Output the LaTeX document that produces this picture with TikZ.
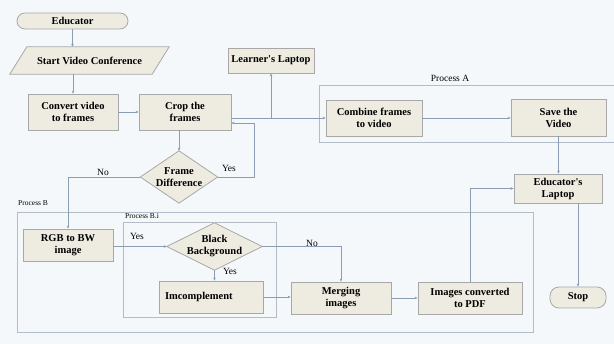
\documentclass[tikz,border=0pt]{standalone}
\usepackage{fontspec}
\setmainfont{Liberation Serif}
\usetikzlibrary{arrows.meta,backgrounds}
\definecolor{bgc}{HTML}{F5F8FB}
\definecolor{nodefill}{HTML}{EEEBE1}
\definecolor{nodeline}{HTML}{A8A8A8}
\definecolor{conn}{HTML}{8A9DB5}
\definecolor{framec}{HTML}{B3BDC8}
\tikzset{
  box/.style={draw=nodeline, fill=nodefill, line width=0.8pt, inner sep=2pt, align=center,
    font=\fontsize{10.5}{12}\selectfont\bfseries},
  term/.style={box, rounded corners=8pt},
  dtext/.style={rectangle, inner sep=0pt, align=center, font=\fontsize{10.5}{12}\selectfont\bfseries},
  dshape/.style={draw=nodeline, fill=nodefill, line width=0.8pt},
  conn/.style={draw=conn, line width=0.6pt, -{Stealth[length=3pt,width=2.6pt]}},
  frame/.style={draw=framec, line width=0.8pt},
  lab/.style={font=\fontsize{9.5}{10}\selectfont, inner sep=0pt},
  flab/.style={font=\fontsize{7.5}{9}\selectfont, inner sep=0pt}
}
\begin{document}
\begin{tikzpicture}[x=1pt,y=-1pt]
\begin{pgfonlayer}{background}
\fill[bgc] (0,0) rectangle (614,344);
\end{pgfonlayer}
\useasboundingbox (0,0) rectangle (614,344);
% frames
\draw[frame] (620,85) -- (319,85) -- (319,142) -- (620,142);
\node[lab] (pa) at (450,78) {Process A};
\draw[frame] (17,212) rectangle (533,332);
\node[flab, anchor=west] (pb) at (18,203) {Process B};
\draw[frame] (123,222) rectangle (276,317);
\node[flab, anchor=west] (pbi) at (125,216) {Process B.i};
% nodes
\node[term, minimum width=111pt, minimum height=16pt] (edu) at (72.5,21) {Educator};
\node[dtext, minimum width=142pt, minimum height=27pt] (svc) at (89.5,60.5) {Start Video Conference};
\node[box, minimum width=90pt, minimum height=36pt] (conv) at (73,112) {Convert video\\to frames};
\node[box, minimum width=92pt, minimum height=36pt] (crop) at (185,112) {Crop the\\frames};
\node[box, minimum width=86pt, minimum height=25pt] (learn) at (271,60.5) {Learner\textquotesingle s Laptop};
\node[dtext, minimum width=77pt, minimum height=52pt] (fd) at (179,177) {Frame\\Difference};
\node[box, minimum width=96pt, minimum height=36pt] (comb) at (374,118) {Combine frames\\to video};
\node[box, minimum width=95pt, minimum height=37pt] (save) at (558.5,117.5) {Save the\\Video};
\node[box, minimum width=88pt, minimum height=29pt] (elap) at (558,188.5) {Educator\textquotesingle s\\Laptop};
\node[term, minimum width=56pt, minimum height=21pt, rounded corners=9pt] (stop) at (578,297.5) {Stop};
\node[box, minimum width=90pt, minimum height=32pt] (rgb) at (68,245) {RGB to BW\\image};
\node[dtext, minimum width=95pt, minimum height=47pt] (bb) at (214.5,246.5) {Black\\Background};
\node[box, minimum width=104pt, minimum height=32pt, text width=92pt, inner xsep=6pt, align=left] (imc) at (211,297) {Imcomplement};
\node[box, minimum width=100pt, minimum height=32pt] (merge) at (341,298) {Merging\\images};
\node[box, minimum width=104pt, minimum height=32pt] (pdf) at (470,298) {Images converted\\to PDF};
\begin{pgfonlayer}{background}
\draw[dshape] ([xshift=8.5pt]svc.north west) -- ([xshift=8.5pt]svc.north east) -- ([xshift=-8.5pt]svc.south east) -- ([xshift=-8.5pt]svc.south west) -- cycle;
\draw[dshape] (fd.north) -- (fd.east) -- (fd.south) -- (fd.west) -- cycle;
\draw[dshape] (bb.north) -- (bb.east) -- (bb.south) -- (bb.west) -- cycle;
\end{pgfonlayer}
% connectors
\coordinate (yl) at (254,123);
\draw[conn] (edu.south) -- (edu.south |- svc.north);
\draw[conn] (conv.north |- svc.south) -- (conv.north);
\draw[conn] (conv.east) -- (crop.west);
\draw[conn] (crop.east |- comb.west) -- (comb.west);
\draw[conn] (learn.south |- comb.west) -- (learn.south);
\draw[conn] (fd.north |- crop.south) -- (fd.north);
\draw[conn] (fd.east) -| (yl) -- (yl -| crop.east);
\draw[conn] (fd.west) -| (rgb.north);
\draw[conn] (rgb.east |- bb.west) -- (bb.west);
\draw[conn] (bb.south) -- (bb.south |- imc.north);
\draw[conn] (bb.east) -| (merge.north);
\draw[conn] (imc.east) -- (imc.east -| merge.west);
\draw[conn] (merge.east) -- (merge.east -| pdf.west);
\draw[conn] (pdf.north) |- (elap.west);
\draw[conn] (comb.east) -- (comb.east -| save.west);
\draw[conn] (save.south) -- (save.south |- elap.north);
\draw[conn] (stop.north |- elap.south) -- (stop.north);
% labels
\node[lab] (no1) at (103,172) {No};
\node[lab] (yes1) at (229,168) {Yes};
\node[lab] (yes2) at (137,236) {Yes};
\node[lab] (no2) at (312,243) {No};
\node[lab] (yes3) at (230,271) {Yes};
\end{tikzpicture}
\end{document}
